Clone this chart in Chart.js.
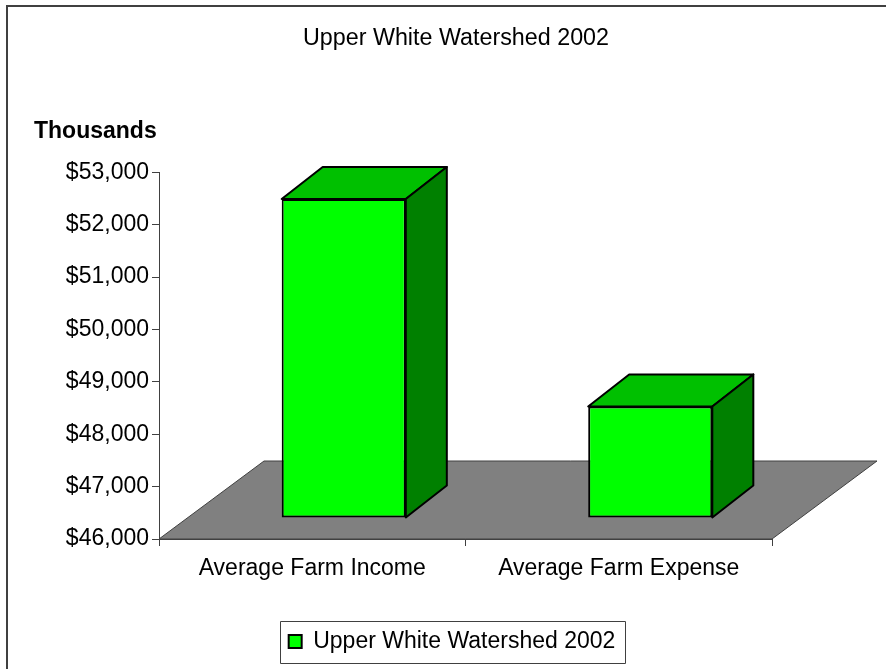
<!DOCTYPE html>
<html>
<head>
<meta charset="utf-8">
<style>
  html, body { margin: 0; padding: 0; background: #fff; }
  #wrap { width: 886px; height: 669px; }
</style>
<script src="https://cdn.jsdelivr.net/npm/chart.js@4/dist/chart.umd.js"></script>
</head>
<body>
<div id="wrap"><canvas id="chart" width="886" height="669"></canvas></div>
<script>
const chartTitle = 'Upper White Watershed 2002';
const axisUnit   = 'Thousands';
const categories = ['Average Farm Income', 'Average Farm Expense'];
const seriesName = 'Upper White Watershed 2002';
const values     = [52090, 48130];
const tickValues = [46000, 47000, 48000, 49000, 50000, 51000, 52000, 53000];

const FONT = '"Liberation Sans", Arial, sans-serif';
const FONT_PX = 23;

// fake 3D: the floor runs back by FLOOR_*, bars stand SHIFT_* back on it and are DEPTH_* deep
const FLOOR_X = 105, FLOOR_Y = 78;
const SHIFT_X = 31.5, SHIFT_Y = 21;
const DEPTH_X = 41,  DEPTH_Y = 32;

const GREEN_FRONT = '#00ff00', GREEN_TOP = '#00c000', GREEN_SIDE = '#008000';
const LINE = '#404040';

function poly(ctx, pts, fill, stroke, lw) {
  ctx.beginPath();
  pts.forEach(([x, y], i) => i ? ctx.lineTo(x, y) : ctx.moveTo(x, y));
  ctx.closePath();
  ctx.fillStyle = fill;
  ctx.fill();
  ctx.strokeStyle = stroke;
  ctx.lineWidth = lw;
  ctx.lineJoin = 'round';
  ctx.stroke();
}

const box3d = {
  id: 'box3d',
  afterLayout(chart) {
    // title sits a little right of the legend centre in the original
    chart.titleBlock.left += 4;
    chart.titleBlock.right += 4;
    // tick labels hang out past the narrow y scale box, don't let them clip
    chart.scales.y.left = 0;
  },
  beforeDatasetsDraw(chart) {
    const { ctx, scales: { x, y } } = chart;
    const y0 = y.getPixelForValue(tickValues[0]);
    ctx.save();
    // outer frame, only top and left show
    ctx.strokeStyle = LINE;
    ctx.lineWidth = 2;
    ctx.beginPath();
    ctx.moveTo(7, 669); ctx.lineTo(7, 6); ctx.lineTo(886, 6);
    ctx.stroke();
    // floor
    poly(ctx, [[x.left, y0], [x.right, y0], [x.right + FLOOR_X, y0 - FLOOR_Y], [x.left + FLOOR_X, y0 - FLOOR_Y]], '#808080', LINE, 1);
    // axis unit
    ctx.fillStyle = '#000';
    ctx.font = 'bold ' + FONT_PX + 'px ' + FONT;
    ctx.textAlign = 'left';
    ctx.textBaseline = 'middle';
    ctx.fillText(axisUnit, 34, 132);
    ctx.restore();
  },
  beforeDatasetDraw(chart, args) {
    const { ctx } = chart;
    chart.getDatasetMeta(args.index).data.forEach(bar => {
      const l = bar.x - bar.width / 2 + SHIFT_X, r = bar.x + bar.width / 2 + SHIFT_X;
      const t = bar.y - SHIFT_Y, b = bar.base - SHIFT_Y;
      poly(ctx, [[l, t], [r, t], [r + DEPTH_X, t - DEPTH_Y], [l + DEPTH_X, t - DEPTH_Y]], GREEN_TOP, '#000', 2);
      poly(ctx, [[r, t], [r + DEPTH_X, t - DEPTH_Y], [r + DEPTH_X, b - DEPTH_Y], [r, b]], GREEN_SIDE, '#000', 2);
    });
    // front face is the library's own bar, moved back onto the floor
    ctx.save();
    ctx.translate(SHIFT_X, -SHIFT_Y);
  },
  afterDatasetDraw(chart) {
    chart.ctx.restore();
  },
  afterDraw(chart) {
    const { ctx, legend } = chart;
    const hit = legend.legendHitBoxes[0];
    const pad = legend.options.labels.padding;
    ctx.save();
    ctx.strokeStyle = LINE;
    ctx.lineWidth = 1;
    ctx.strokeRect(Math.round(hit.left - pad) + 0.5, Math.round(legend.top) + 0.5, Math.round(hit.width + pad * 2), Math.round(legend.height));
    ctx.restore();
  }
};

new Chart(document.getElementById('chart'), {
  type: 'bar',
  data: {
    labels: categories,
    datasets: [{
      label: seriesName,
      data: values,
      base: tickValues[0],
      backgroundColor: GREEN_FRONT,
      borderColor: '#000',
      borderWidth: 2,
      borderSkipped: false,
      barPercentage: 0.405,
      categoryPercentage: 1,
      clip: false
    }]
  },
  plugins: [box3d],
  options: {
    responsive: false,
    animation: false,
    layout: { autoPadding: false, padding: { left: 132, right: 114, top: 0, bottom: 6 } },
    plugins: {
      tooltip: { enabled: false },
      title: {
        display: true,
        text: chartTitle,
        color: '#000',
        font: { family: FONT, size: 23.3, weight: 'normal', lineHeight: 1 },
        padding: { top: 27, bottom: 122 }
      },
      legend: {
        position: 'bottom',
        labels: {
          color: '#000',
          boxWidth: 13,
          boxHeight: 13,
          padding: 9,
          font: { family: FONT, size: FONT_PX }
        }
      }
    },
    scales: {
      x: {
        afterFit(s) { s.height = 82; },
        grid: { display: true, drawOnChartArea: false, drawTicks: true, tickLength: 7, color: LINE, offset: true },
        border: { display: true, color: LINE },
        ticks: { color: '#000', maxRotation: 0, padding: 9, font: { family: FONT, size: FONT_PX } }
      },
      y: {
        min: tickValues[0],
        max: tickValues[tickValues.length - 1],
        afterFit(s) { s.width = 27; },
        afterBuildTicks(s) { s.ticks = tickValues.map(v => ({ value: v })); },
        grid: { display: true, drawOnChartArea: false, drawTicks: true, tickLength: 7, color: LINE },
        border: { display: true, color: LINE },
        ticks: {
          color: '#000',
          padding: 3,
          font: { family: FONT, size: FONT_PX },
          callback: v => '$' + v.toLocaleString('en-US')
        }
      }
    }
  }
});
</script>
</body>
</html>
